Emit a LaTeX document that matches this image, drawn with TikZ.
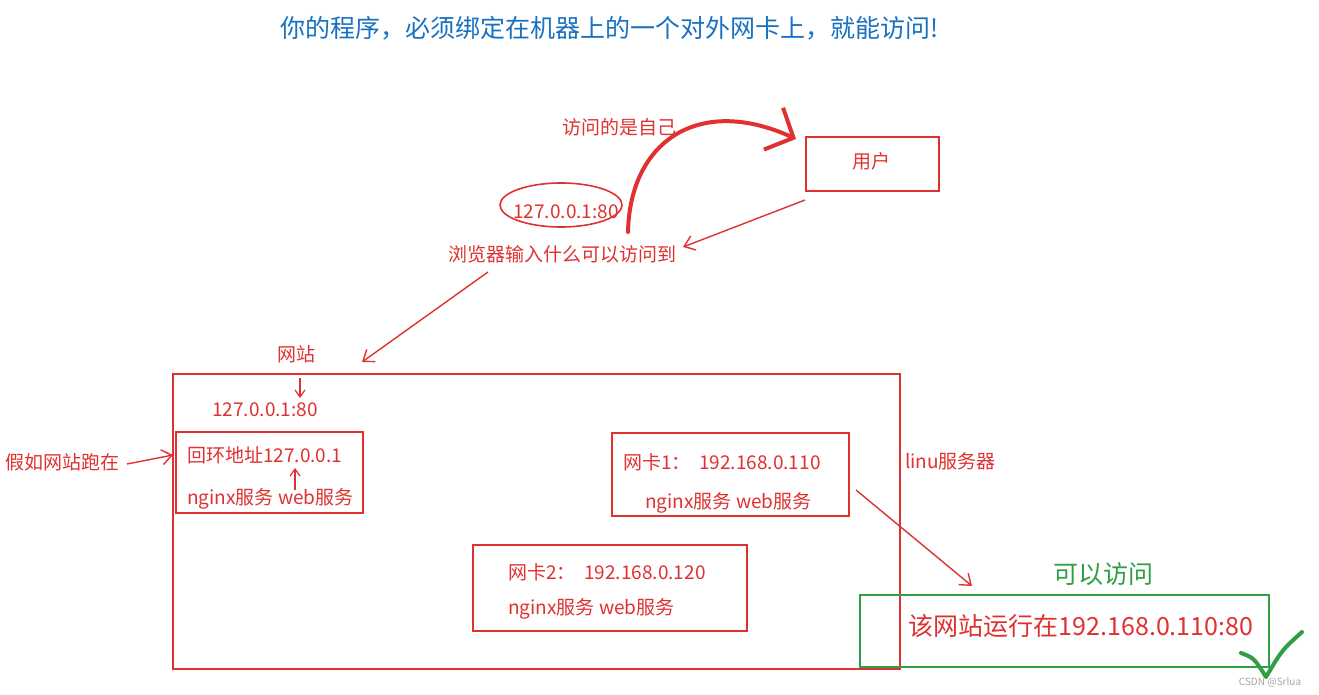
\documentclass[tikz,border=0pt]{standalone}
\usepackage{fontspec}
\setmainfont{Noto Sans CJK SC}
\usetikzlibrary{arrows.meta,shapes.geometric}
\definecolor{exred}{HTML}{E03131}
\definecolor{exgreen}{HTML}{2F9E44}
\definecolor{exblue}{HTML}{1971C2}
\tikzset{
  lbl/.style={text=exred, font=\fontsize{19}{22}\selectfont, inner sep=0pt},
  big/.style={font=\fontsize{25}{28}\selectfont, inner sep=0pt},
  box/.style={draw=exred, line width=1.6pt, inner sep=0pt, anchor=north west},
  arr/.style={draw=exred, line width=1.4pt, -{Straight Barb[length=10pt,width=15pt]}},
}
\begin{document}
\begin{tikzpicture}[x=1pt,y=-1pt]
\useasboundingbox[fill=white] (0,0) rectangle (1319,695);

% title
\node[big, text=exblue] (title) at (610,28) {你的程序，必须绑定在机器上的一个对外网卡上，就能访问!};

% top part
\node[box, minimum width=133pt, minimum height=54pt] (user) at (805,136) {};
\node[lbl] (usertxt) at (871,161) {用户};
\node[draw=exred, line width=1.6pt, ellipse, minimum width=122pt, minimum height=44pt] (ell) at (561,205) {};
\node[lbl] (ip1) at (566,212) {127.0.0.1:80};
\node[lbl] (self) at (619,127) {访问的是自己};
\node[lbl] (browser) at (562,254) {浏览器输入什么可以访问到};

\coordinate (cs) at (628,232);
\coordinate (ce) at (796,139);
\draw[exred, line width=4pt, line cap=round, -{Straight Barb[length=22pt,width=46pt]}]
  (cs) .. controls (630,140) and (700,95) .. (ce);

\coordinate (ua) at (805,200);
\coordinate (ub) at (683,247);
\draw[arr] (ua) -- (ub);

\coordinate (ba) at (488,272);
\coordinate (bb) at (362,362);
\draw[arr] (ba) -- (bb);

% server
\node[lbl] (site) at (296,354) {网站};
\node[box, line width=2pt, minimum width=727pt, minimum height=295pt] (server) at (172,373) {};
\node[lbl] (ip2) at (265,410) {127.0.0.1:80};
\coordinate (da) at (300,378);
\coordinate (db) at (300,398);
\draw[arr, line width=1.2pt, -{Straight Barb[length=7pt,width=10pt]}] (da) -- (db);

\node[box, minimum width=187pt, minimum height=81pt] (lo) at (175,431) {};
\node[lbl, anchor=west] (lo1) at (187,455) {回环地址127.0.0.1};
\node[lbl, anchor=west] (lo2) at (187,499) {nginx服务 web服务};
\coordinate (ea) at (295,490);
\coordinate (eb) at (295,468);
\draw[arr, line width=1.2pt, -{Straight Barb[length=7pt,width=10pt]}] (ea) -- (eb);

\node[lbl, anchor=west] (assume) at (5,462) {假如网站跑在};
\coordinate (fa) at (127,464);
\coordinate (fb) at (173,455);
\draw[arr] (fa) -- (fb);

\node[box, minimum width=237pt, minimum height=83pt] (nic1) at (611,432) {};
\node[lbl, anchor=west] (n1a) at (623,462) {网卡1：\ \ 192.168.0.110};
\node[lbl, anchor=west] (n1b) at (645,503) {nginx服务 web服务};

\node[lbl, anchor=west] (linu) at (905,461) {linu服务器};

\node[box, minimum width=274pt, minimum height=86pt] (nic2) at (472,544) {};
\node[lbl, anchor=west] (n2a) at (508,572) {网卡2：\ \ 192.168.0.120};
\node[lbl, anchor=west] (n2b) at (508,609) {nginx服务 web服务};

% result
\coordinate (ga) at (856,490);
\coordinate (gb) at (972,586);
\draw[arr] (ga) -- (gb);

\node[big, text=exgreen] (ok) at (1103,574) {可以访问};
\node[draw=exgreen, line width=1.6pt, inner sep=0pt, anchor=north west, minimum width=409pt, minimum height=72pt] (res) at (859,594) {};
\node[big, text=exred] (restxt) at (1081,626) {该网站运行在192.168.0.110:80};

\coordinate (k1) at (1241,653);
\coordinate (k2) at (1266,677);
\coordinate (k3) at (1302,632);
\draw[exgreen, line width=4pt, line cap=round, line join=round]
  (k1) .. controls (1254,658) .. (k2) .. controls (1282,650) .. (k3);

\node[text=gray!70, font=\fontsize{10}{11}\selectfont, inner sep=0pt] (wm) at (1270,682) {CSDN @Srlua};
\end{tikzpicture}
\end{document}
